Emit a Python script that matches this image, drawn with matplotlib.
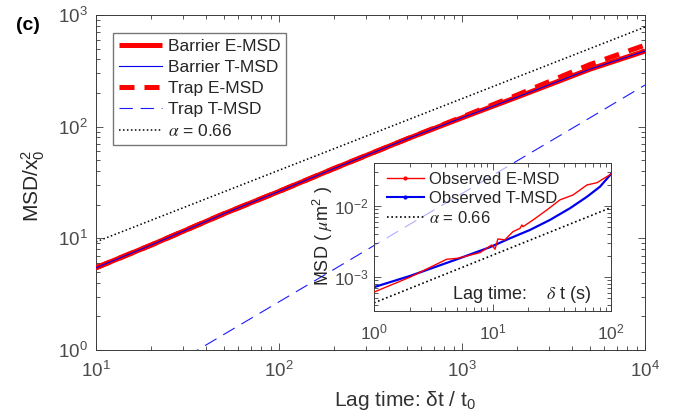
import matplotlib
matplotlib.use('Agg')
import matplotlib.pyplot as plt
from matplotlib.lines import Line2D
from matplotlib.ticker import LogLocator, NullFormatter

plt.rcParams['font.family'] = ['Liberation Sans', 'DejaVu Sans']
plt.rcParams['mathtext.fontset'] = 'stix'

# ---- main panel data ----
lag = [10, 20, 50, 100, 200, 500, 1000, 2000, 5000, 10000]
barrier_emsd = [5.45, 8.7, 16.6, 26.3, 42.2, 77.6, 120, 184, 327, 475]
barrier_tmsd = [5.45, 8.7, 16.6, 26.3, 42.2, 77.6, 120, 184, 327, 475]
trap_emsd = [5.45, 8.7, 16.6, 26.3, 42.2, 77.6, 122, 192, 360, 537]
trap_tmsd = [0.29, 0.565, 1.38, 2.70, 5.28, 12.9, 25.2, 49.4, 120, 236]
alpha_lag = [10, 10000]
alpha_msd = [9.3, 780]

# ---- inset data ----
obs_lag_e = [1, 2.01, 4.1, 5.1, 7.85, 9.85, 10.5, 11.1, 12.7, 14.9, 17.1, 17.7,
             18.1, 22, 28.8, 37.1, 47.8, 62.7, 76.2, 100]
obs_emsd = [6.1e-4, 9.9e-4, 1.77e-3, 1.83e-3, 2.2e-3, 2.82e-3, 2.45e-3, 3.43e-3,
            3.32e-3, 4.35e-3, 4.85e-3, 5.4e-3, 5.1e-3, 6.35e-3, 8.8e-3, 1.22e-2,
            1.43e-2, 1.98e-2, 2.13e-2, 2.82e-2]
obs_lag_t = [1, 2.01, 5.1, 9.5, 14.1, 20.7, 30.5, 45.1, 62.7, 80.7, 100]
obs_tmsd = [7.16e-4, 1.03e-3, 1.79e-3, 2.62e-3, 3.51e-3, 4.59e-3, 6.35e-3,
            9.3e-3, 1.35e-2, 1.87e-2, 2.82e-2]
inset_alpha_lag = [1, 100]
inset_alpha_msd = [4.3e-4, 9.5e-3]

AX = '#3a3a3a'
TXT = '#262626'

fig = plt.figure(figsize=(6.82, 4.20), dpi=100)
ax = fig.add_axes([96/682, 1-350/420, 549/682, 335/420])

ax.plot(lag, barrier_emsd, color='red', lw=3.6, solid_capstyle='butt', label='Barrier E-MSD', zorder=3)
ax.plot(lag, barrier_tmsd, color='#0000ee', lw=0.8, label='Barrier T-MSD', zorder=5)
ax.plot(lag, trap_emsd, color='red', lw=3.6, ls=(0, (3.0, 2.0)), label='Trap E-MSD', zorder=4)
ax.plot(lag, trap_tmsd, color='#1a1aff', lw=0.8, ls=(0, (12, 7)), label='Trap T-MSD', zorder=2)
ax.plot(alpha_lag, alpha_msd, color='black', lw=1.1, ls=(0, (1, 1.6)), label=r'$\alpha$ = 0.66', zorder=2)

ax.set_xscale('log')
ax.set_yscale('log')
ax.set_xlim(10, 1e4)
ax.set_ylim(1, 1e3)

def style_axes(a, fs):
    a.xaxis.set_major_locator(LogLocator(base=10, numticks=10))
    a.yaxis.set_major_locator(LogLocator(base=10, numticks=10))
    a.xaxis.set_minor_locator(LogLocator(base=10, subs=range(2, 10), numticks=50))
    a.yaxis.set_minor_locator(LogLocator(base=10, subs=range(2, 10), numticks=50))
    a.xaxis.set_minor_formatter(NullFormatter())
    a.yaxis.set_minor_formatter(NullFormatter())
    a.tick_params(which='both', direction='in', top=True, right=True,
                  color=AX, width=0.6, labelcolor='#4a4a4a', labelsize=fs)
    a.tick_params(which='major', length=5)
    a.tick_params(which='minor', length=2.8)
    for s in a.spines.values():
        s.set_color(AX)
        s.set_linewidth(0.7)

style_axes(ax, 13.5)
ax.tick_params(axis='x', which='major', pad=8)
ax.tick_params(axis='y', which='major', pad=6)

leg = ax.legend(loc='upper left', bbox_to_anchor=(0.031, 0.946), fontsize=12.5,
                frameon=True, fancybox=False, edgecolor='#555555',
                handlelength=2.5, handletextpad=0.3, borderpad=0.35,
                labelspacing=0.33, borderaxespad=0)
leg.get_frame().set_linewidth(1.0)
for t in leg.get_texts():
    t.set_color(TXT)

ax.set_xlabel('Lag time: δt / t$\\mathregular{_0}$', fontsize=15, color='#333333')
ax.xaxis.set_label_coords(0.563, -0.15)
ax.xaxis.label.set_va('center')
ax.set_ylabel('MSD/x$\\mathregular{_0^2}$', fontsize=15, color=TXT)
ax.yaxis.set_label_coords(-0.115, 0.49)
ax.yaxis.label.set_va('center')

fig.text(0.041, 0.94, '(c)', fontsize=14, fontweight='bold', ha='center', va='center', color='black')

# ---- inset ----
ins = fig.add_axes([374/682, 1-311/420, 237/682, 148/420])
ins.patch.set_facecolor((1, 1, 1, 0.65))
ins.plot(obs_lag_e, obs_emsd, color='red', lw=1.0, zorder=3)
ins.plot(obs_lag_t, obs_tmsd, color='#0000ee', lw=1.6, zorder=2)
ins.plot(inset_alpha_lag, inset_alpha_msd, color='black', lw=1.2, ls=(0, (1, 1.6)), zorder=2)
ins.set_xscale('log')
ins.set_yscale('log')
ins.set_xlim(1, 100)
ins.set_ylim(3.3e-4, 4.04e-2)
style_axes(ins, 12.5)
ins.tick_params(axis='x', which='major', pad=8)
ins.tick_params(axis='y', which='major', pad=4)

handles = [Line2D([], [], color='red', lw=1.0, marker='.', markersize=4),
           Line2D([], [], color='#0000ee', lw=1.5, marker='.', markersize=4),
           Line2D([], [], color='black', lw=1.2, ls=(0, (1, 1.6)))]
leg2 = ins.legend(handles, ['Observed E-MSD', 'Observed T-MSD', r'$\alpha$ = 0.66'],
                  loc='upper left', bbox_to_anchor=(0.055, 0.94), fontsize=12,
                  frameon=False, handlelength=2.2, handletextpad=0.3,
                  labelspacing=0.25, borderaxespad=0, borderpad=0, numpoints=1)
for t in leg2.get_texts():
    t.set_color(TXT)

ins.text(0.33, 0.11, 'Lag time:    $\\delta$ t (s)', transform=ins.transAxes,
         fontsize=13, color=TXT, ha='left', va='center')
ins.set_ylabel('MSD ( $\\mu$m$\\mathregular{^2}$ )', fontsize=13, color=TXT)
ins.yaxis.set_label_coords(-0.215, 0.51)
ins.yaxis.label.set_va('center')

fig.savefig('out.png', dpi=100)
